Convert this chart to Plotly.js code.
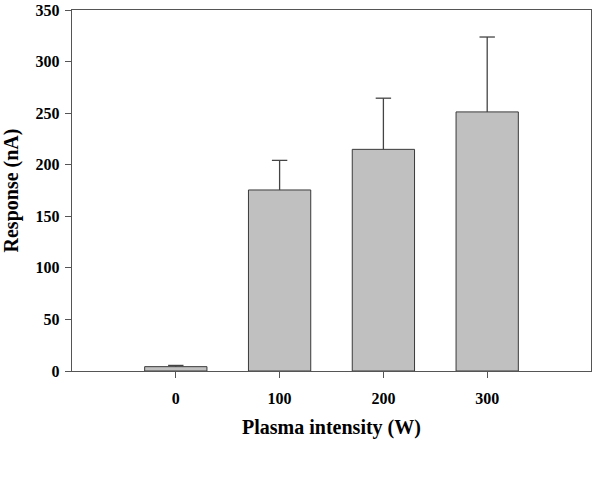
<!DOCTYPE html>
<html>
<head>
<meta charset="utf-8">
<script src="https://cdn.plot.ly/plotly-3.0.1.min.js"></script>
<style>
  html, body { margin: 0; padding: 0; background: #fff; }
  #chart { width: 606px; height: 501px; }
</style>
</head>
<body>
<div id="chart"></div>
<script>
// Plasma treatment power and measured sensor response
const plasmaPower = [0, 100, 200, 300];           // W
const responseMean = [4.2, 175.5, 214.9, 251.2];  // nA
const responseErr = [1.2, 28.7, 49.6, 72.6];      // nA (upper error only)
const xTicks = [0, 100, 200, 300];
const yTicks = [0, 50, 100, 150, 200, 250, 300, 350];

const serif = 'Liberation Serif, Times New Roman, serif';
const axisColor = '#555555';
const errColor = '#444444';

const bars = {
  type: 'bar',
  x: plasmaPower,
  y: responseMean,
  width: 60,
  marker: { color: '#c0c0c0', line: { color: '#3a3a3a', width: 1 } },
  hoverinfo: 'x+y'
};

// upward-only error whiskers: a stem from the bar top to mean + error
const stemX = [], stemY = [];
plasmaPower.forEach((p, i) => {
  stemX.push(p, p, null);
  stemY.push(responseMean[i], responseMean[i] + responseErr[i], null);
});
const stems = {
  type: 'scatter',
  mode: 'lines',
  x: stemX,
  y: stemY,
  line: { color: errColor, width: 1.3 },
  hoverinfo: 'skip'
};
// caps at the top of each whisker
const caps = {
  type: 'scatter',
  mode: 'markers',
  x: plasmaPower,
  y: responseMean.map((m, i) => m + responseErr[i]),
  marker: { symbol: 'line-ew', size: 11, line: { color: errColor, width: 1.3 } },
  hoverinfo: 'skip'
};

const layout = {
  width: 606,
  height: 501,
  margin: { l: 72, r: 15, t: 10, b: 129.5 },
  paper_bgcolor: '#ffffff',
  plot_bgcolor: '#ffffff',
  showlegend: false,
  font: { family: serif, color: '#000000' },
  xaxis: {
    range: [-100, 400],
    tickvals: xTicks,
    ticktext: xTicks.map(String),
    ticks: 'outside',
    ticklen: 6,
    tickwidth: 1,
    tickcolor: axisColor,
    ticklabelstandoff: 6,
    tickfont: { family: serif, size: 16, color: '#000', weight: 'bold' },
    showline: true,
    linecolor: axisColor,
    linewidth: 1.3,
    mirror: true,
    showgrid: false,
    zeroline: false,
    title: {
      text: 'Plasma intensity (W)',
      font: { family: serif, size: 20, color: '#000', weight: 'bold' },
      standoff: 14
    }
  },
  yaxis: {
    range: [0, 350],
    tickvals: yTicks,
    ticktext: yTicks.map(String),
    ticks: 'outside',
    ticklen: 6,
    tickwidth: 1,
    tickcolor: axisColor,
    ticklabelstandoff: 2,
    tickfont: { family: serif, size: 16, color: '#000', weight: 'bold' },
    showline: true,
    linecolor: axisColor,
    linewidth: 1.3,
    mirror: true,
    showgrid: false,
    zeroline: false,
    title: {
      text: 'Response (nA)',
      font: { family: serif, size: 20, color: '#000', weight: 'bold' },
      standoff: 12
    }
  }
};

Plotly.newPlot('chart', [bars, stems, caps], layout, { displayModeBar: false, staticPlot: true });
</script>
</body>
</html>
